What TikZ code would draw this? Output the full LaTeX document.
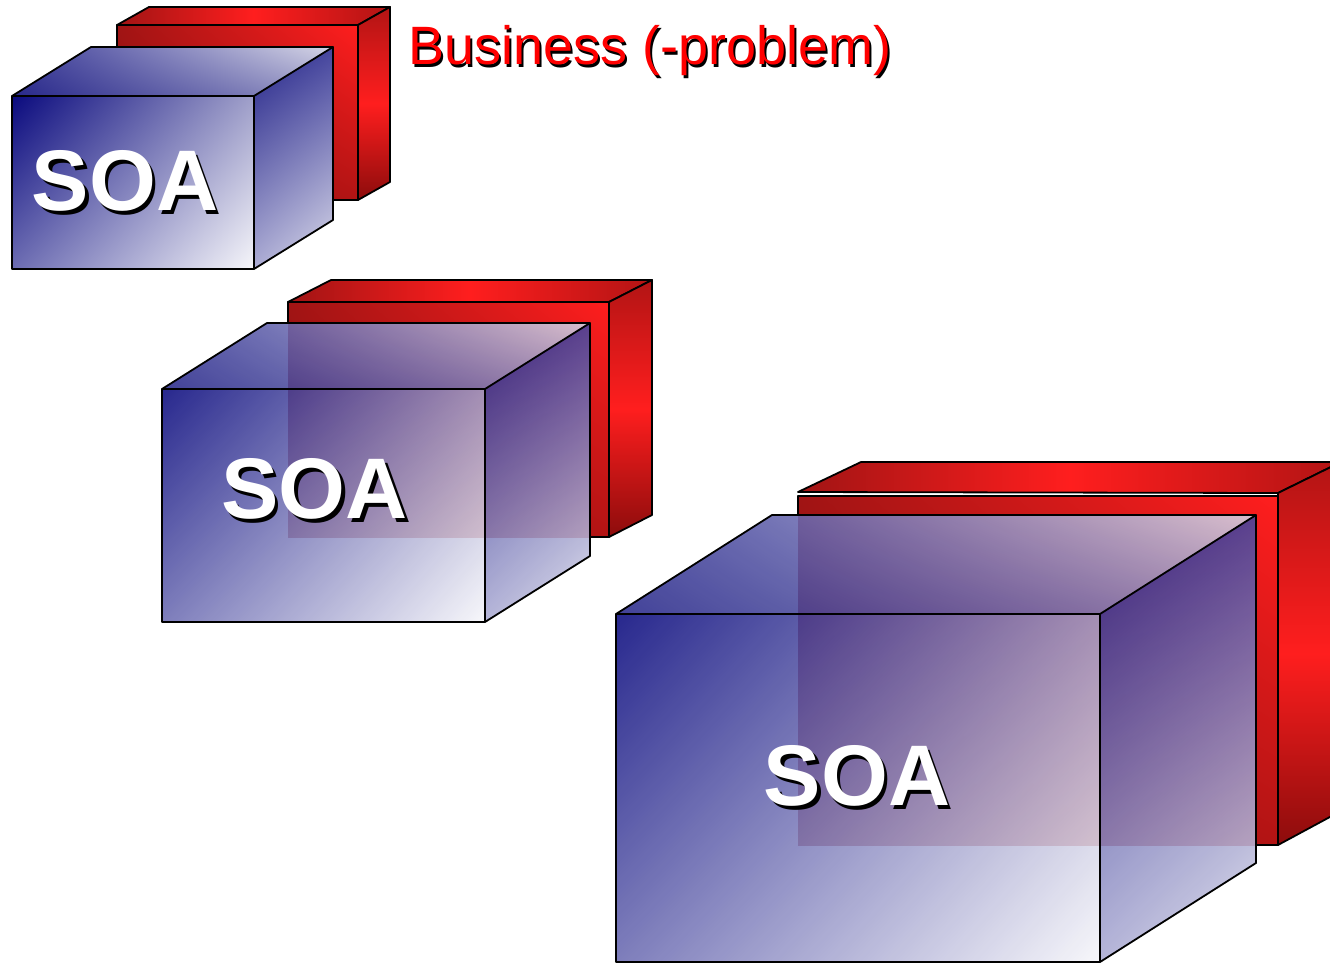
\documentclass[tikz,border=0pt]{standalone}
\usepackage{fontspec}
\usetikzlibrary{shadings}
\setmainfont{Liberation Sans}
\definecolor{bA}{RGB}{10,10,126}
\definecolor{bB}{RGB}{160,160,202}
\definecolor{bC}{RGB}{108,108,178}
\definecolor{bD}{RGB}{246,246,250}
\definecolor{btUL}{RGB}{62,62,154}
\definecolor{btLL}{RGB}{40,40,138}
\definecolor{btUR}{RGB}{214,214,230}
\definecolor{btLR}{RGB}{150,150,196}
\definecolor{bsUL}{RGB}{34,34,136}
\definecolor{bsUR}{RGB}{70,70,158}
\definecolor{bsLL}{RGB}{172,172,212}
\definecolor{bsLR}{RGB}{222,222,236}
\definecolor{rdark}{RGB}{160,20,20}
\definecolor{rbright}{RGB}{255,30,30}
\definecolor{rdeep}{RGB}{140,12,12}
\definecolor{rlr}{RGB}{178,20,20}
\tikzset{
  ln/.style={draw=black,line width=1.8pt,line join=round},
  redfront/.style={shade,upper left=rdark,upper right=rbright,lower left=rdeep,lower right=rlr},
  redtop/.style={shade,left color=rdark,right color=rlr,middle color=rbright},
  redside/.style={shade,top color=rlr,bottom color=rdeep,middle color=rbright},
  bluefront/.style={shade,upper left=bA,upper right=bB,lower left=bC,lower right=bD},
  bluetop/.style={shade,upper left=btUL,upper right=btUR,lower left=btLL,lower right=btLR},
  blueside/.style={shade,upper left=bsUL,upper right=bsUR,lower left=bsLL,lower right=bsLR},
  soatxt/.style={inner sep=0pt,font=\fontsize{86}{90}\selectfont\bfseries},
  biztxt/.style={inner sep=0pt,font=\fontsize{54}{60}\selectfont},
}
% red cube: L T R B dx dy
\newcommand\redcube[6]{%
  \path[redfront] (#1,#2) rectangle (#3,#4);
  \draw[ln,redtop] (#1,#2) -- (#1+#5,#2-#6) -- (#3+#5,#2-#6) -- (#3,#2) -- cycle;
  \draw[ln,redside] (#3,#2) -- (#3+#5,#2-#6) -- (#3+#5,#4-#6) -- (#3,#4) -- cycle;
}
% clip that leaves out a cube silhouette: L T R B dx dy
\newcommand\holeclip[6]{%
  \clip (0,0) -- (1330,0) -- (1330,966) -- (0,966) -- cycle
    (#1,#4) -- (#3,#4) -- (#3+#5,#4-#6) -- (#3+#5,#2-#6) -- (#1+#5,#2-#6) -- (#1,#2) -- cycle;
}
% blue cube: L T R B dx dy opacity
\newcommand\bluecube[7]{%
  \path[bluefront,fill opacity=#7] (#1,#2) rectangle (#3,#4);
  \path[bluetop,fill opacity=#7] (#1,#2) -- (#1+#5,#2-#6) -- (#3+#5,#2-#6) -- (#3,#2) -- cycle;
  \path[blueside,fill opacity=#7] (#3,#2) -- (#3+#5,#2-#6) -- (#3+#5,#4-#6) -- (#3,#4) -- cycle;
  \draw[ln] (#1,#2) rectangle (#3,#4);
  \draw[ln] (#1,#2) -- (#1+#5,#2-#6) -- (#3+#5,#2-#6) -- (#3,#2);
  \draw[ln] (#3+#5,#2-#6) -- (#3+#5,#4-#6) -- (#3,#4);
}
\begin{document}
\begin{tikzpicture}[x=1pt,y=-1pt]
\useasboundingbox (0,0) rectangle (1330,966);
\clip (0,0) rectangle (1330,966);

% ---------- cube group 1 ----------
\redcube{117}{25}{358}{200}{32}{18}
\draw[ln] (117,25) rectangle (358,200);
\bluecube{12}{96}{254}{269}{79}{49}{1}
\node[soatxt,text=black] (soa1s) at (128.5,184.5) {SOA};
\node[soatxt,text=white] (soa1) at (125,181) {SOA};

% ---------- cube group 2 ----------
\redcube{288}{302}{609}{537}{43}{22}
\begin{scope}
  \holeclip{162}{389}{485}{622}{105}{66}
  \draw[ln] (288,302) rectangle (609,537);
\end{scope}
\bluecube{162}{389}{485}{622}{105}{66}{0.88}
\node[soatxt,text=black] (soa2s) at (318,492.5) {SOA};
\node[soatxt,text=white] (soa2) at (314.5,489) {SOA};

% ---------- cube group 3 ----------
\path[redfront] (798,496) rectangle (1278,845);
\draw[ln,redtop] (798,492) -- (861,462) -- (1341,462) -- (1278,493) -- cycle;
\draw[ln,redside] (1278,493) -- (1341,462) -- (1341,811) -- (1278,845) -- cycle;
\begin{scope}
  \holeclip{616}{614}{1100}{962}{156}{99}
  \draw[ln] (798,496) rectangle (1278,845);
\end{scope}
\bluecube{616}{614}{1100}{962}{156}{99}{0.88}
\node[soatxt,text=black] (soa3s) at (860.5,779.5) {SOA};
\node[soatxt,text=white] (soa3) at (857,776) {SOA};

% ---------- title ----------
\node[biztxt,text=black,anchor=base west] (bizs) at (410.5,67.5) {Business (-problem)};
\node[biztxt,text=red,anchor=base west] (biz) at (408,65) {Business (-problem)};
\end{tikzpicture}
\end{document}
